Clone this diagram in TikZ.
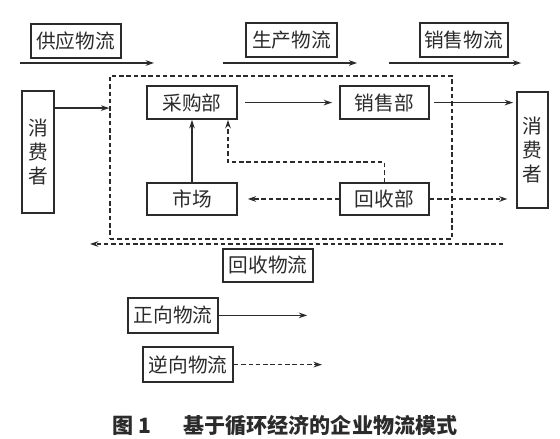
\documentclass[tikz,border=0pt]{standalone}
\usepackage{fontspec}
\usetikzlibrary{arrows.meta,positioning,calc}
\newfontfamily\cjk{Noto Sans CJK SC}
\definecolor{FlowInk}{HTML}{2B2B2B}

\begin{document}
\begin{tikzpicture}[x=1cm,y=1cm,>=Stealth,
  box/.style={draw=FlowInk,line width=1.3pt,fill=white,align=center,inner sep=0pt,
    font=\cjk\fontsize{14}{17}\selectfont,text=FlowInk,minimum width=2.25cm,minimum height=.84cm},
  tall/.style={box,minimum width=.8cm},
  link/.style={-{Stealth[length=6pt,width=4pt]},line width=1pt,FlowInk},
  back/.style={link,dash pattern=on 3.2pt off 2pt},
  frame/.style={draw=FlowInk,line width=1pt,dash pattern=on 3.2pt off 2pt,inner sep=0pt}]
\useasboundingbox (0,0) rectangle (14,10.975);
% Flow labels along the top
\node[box] (supply) at (1.89,9.95) {供应物流};
\node[box,minimum width=2.28cm] (prodflow) at (7.29,9.97) {生产物流};
\node[box,minimum width=2.2cm] (salesflow) at (11.59,9.97) {销售物流};
\coordinate (s1) at (.5,9.4); \coordinate (s2) at (3.85,9.4);
\coordinate (p1) at (5.58,9.4); \coordinate (p2) at (8.93,9.4);
\coordinate (q1) at (9.73,9.4); \coordinate (q2) at (13.03,9.4);
\draw[link] (s1)--(s2); \draw[link] (p1)--(p2); \draw[link] (q1)--(q2);
% Enterprise frame and departments
\node[frame,minimum width=8.55cm,minimum height=4.075cm] (firm) at (7.025,7.04) {};
\node[box,minimum height=.82cm] (purch) at (4.8,8.41) {采购部};
\node[box,minimum width=2.22cm,minimum height=.82cm] (sales) at (9.61,8.41) {销售部};
\node[box,minimum height=.8cm] (market) at (4.8,6.0) {市场};
\node[box,minimum width=2.22cm,minimum height=.8cm] (recyc) at (9.61,6.0) {回收部};
\node[tall,minimum height=3.05cm] (consL) at (.96,7.175) {消\\费\\者};
\node[tall,minimum width=.78cm,minimum height=2.9cm] (consR) at (13.31,7.225) {消\\费\\者};
\coordinate (inL) at ([yshift=-.45cm]consL.north east);
\draw[link] (inL)--(inL -| firm.west);
\draw[link,shorten <=5pt,shorten >=5pt] (purch)--(sales);
\draw[link,shorten <=3pt,shorten >=2pt] (sales.east)--(sales.east -| consR.west);
\draw[link] (market)--(purch);
\draw[back] (recyc.north)--++(0,.5)-|([xshift=.9cm]purch.south);
\draw[back,shorten >=7pt] (recyc.west)--(market.east);
\draw[back,shorten >=6pt] (recyc.east)--(recyc.east -| consR.west);
% Return flow
\coordinate (r1) at (12.58,4.875); \coordinate (r2) at (2.25,4.875);
\draw[back] (r1)--(r2);
\node[box,minimum height=.82cm] (recflow) at (6.7,4.34) {回收物流};
% Legend
\node[box,minimum height=.87cm] (fwd) at (4.33,3.09) {正向物流};
\node[box,minimum height=.87cm] (rev) at (4.7,1.86) {逆向物流};
\coordinate (f2) at (7.68,3.09); \coordinate (v2) at (8.05,1.86);
\draw[link] (fwd.east)--(f2);
\draw[back] (rev.east)--(v2);
\node[font=\cjk\bfseries\fontsize{15}{17}\selectfont,text=FlowInk] (caption) at (7.13,.33) {图 1\quad\enspace 基于循环经济的企业物流模式};
\end{tikzpicture}
\end{document}
